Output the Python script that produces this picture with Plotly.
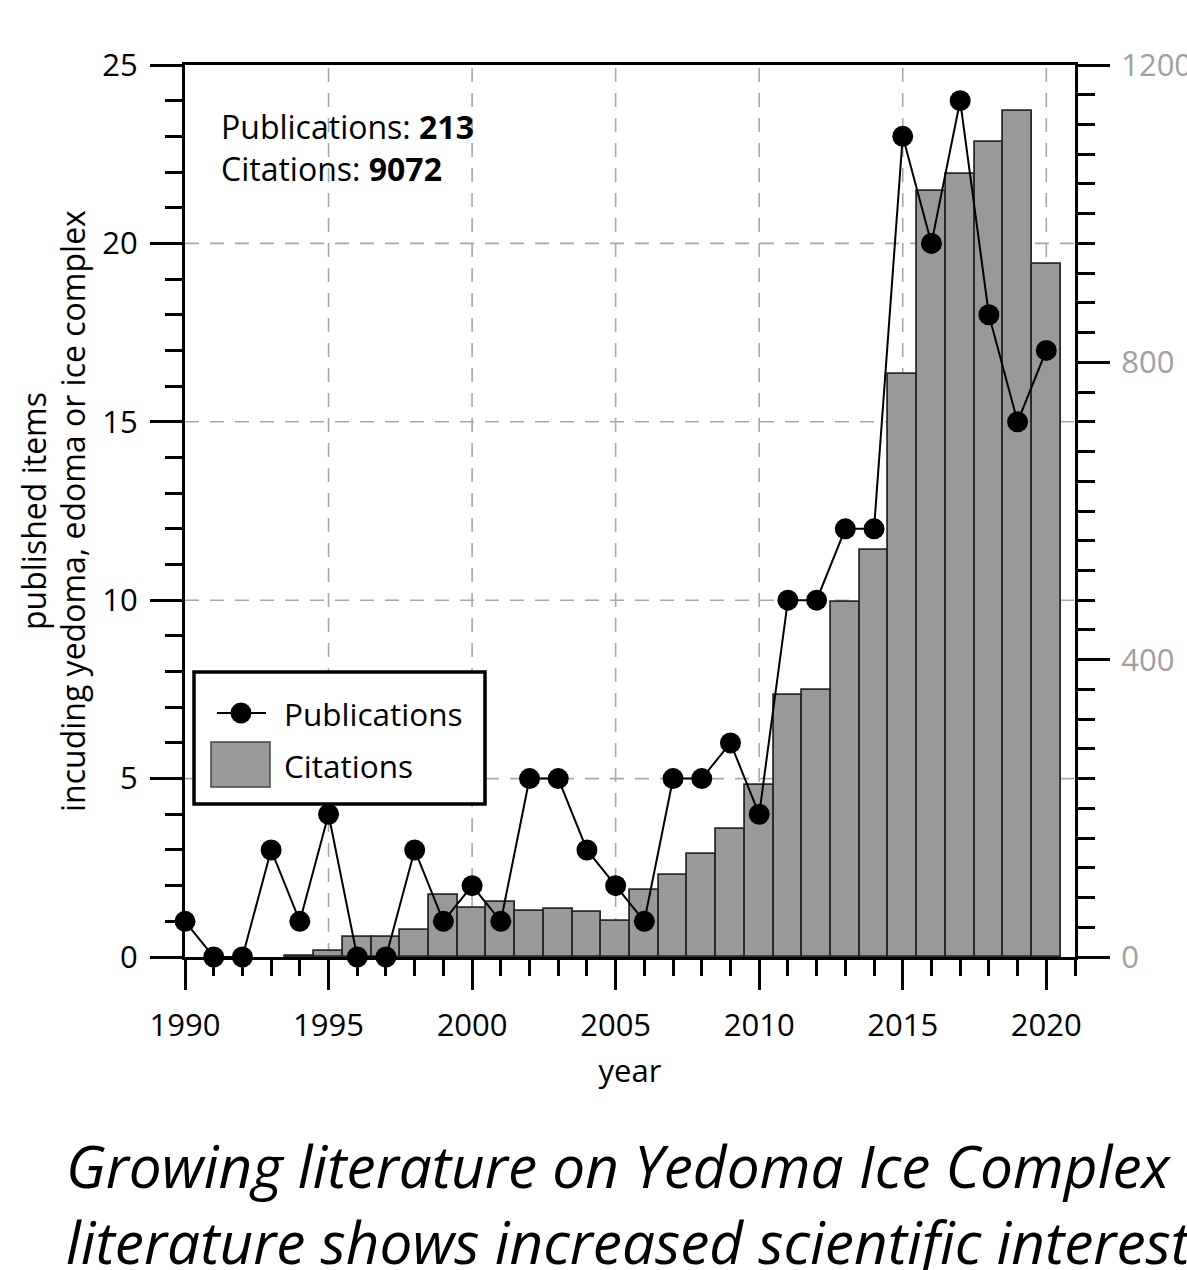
import plotly.graph_objects as go

# ---- data ----
years = list(range(1990, 2021))
publications = [1, 0, 0, 3, 1, 4, 0, 0, 3, 1, 2, 1, 5, 5, 3, 2, 1, 5, 5, 6, 4,
                10, 10, 12, 12, 23, 20, 24, 18, 15, 17]
cit_years = list(range(1994, 2021))
citations = [2, 8, 27, 27, 37, 84, 66, 74, 62, 65, 60, 49, 90, 110, 139, 172, 232,
             352, 359, 478, 548, 784, 1031, 1053, 1096, 1138, 932]
x_ticks = [1990, 1995, 2000, 2005, 2010, 2015, 2020]
left_ticks = [0, 5, 10, 15, 20, 25]
right_ticks = [0, 400, 800, 1200]
grid_x = [1995, 2000, 2005, 2010, 2015, 2020]
grid_y = [5, 10, 15, 20]
total_pub = 213
total_cit = 9072

X_RANGE = [1990, 2021]
Y_RANGE = [0, 25]
Y2_RANGE = [0, 1200]

FONT = "Open Sans"
GRID_COLOR = "#a8a8a8"
W, H = 1187, 1270
ML, MR, MT, MB = 185, 112, 65, 313
PW, PH = W - ML - MR, H - MT - MB

fig = go.Figure()

# grid lines (drawn above bars, below publication markers)
gx, gy = [], []
for v in grid_x:
    gx += [v, v, None]
    gy += [Y_RANGE[0], Y_RANGE[1], None]
for v in grid_y:
    gx += [X_RANGE[0], X_RANGE[1], None]
    gy += [v, v, None]
fig.add_trace(go.Scatter(x=gx, y=gy, mode="lines", yaxis="y",
                         line=dict(color=GRID_COLOR, width=1.6, dash="14px,11px"),
                         hoverinfo="skip", showlegend=False))

fig.add_trace(go.Bar(x=cit_years, y=citations, yaxis="y2", width=1.0,
                     marker=dict(color="#999999", line=dict(color="#2a2a2a", width=1.8)),
                     name="Citations", showlegend=False))

fig.add_trace(go.Scatter(x=years, y=publications, yaxis="y3", mode="lines+markers",
                         line=dict(color="black", width=2),
                         marker=dict(color="black", size=21),
                         cliponaxis=False, name="Publications", showlegend=False))

tickfont = dict(family=FONT, size=31, color="black")

fig.update_layout(
    width=W, height=H, autosize=False,
    margin=dict(l=ML, r=MR, t=MT, b=MB),
    paper_bgcolor="white", plot_bgcolor="white",
    font=dict(family=FONT, color="black"),
    bargap=0,
    xaxis=dict(range=X_RANGE, tickvals=x_ticks, showgrid=False, zeroline=False,
               automargin=False,
               showline=True, linecolor="black", linewidth=3, mirror=True,
               ticks="outside", ticklen=30, tickwidth=3, tickcolor="black",
               minor=dict(dtick=1, tick0=1990, ticks="outside", ticklen=16,
                          tickwidth=3, tickcolor="black", showgrid=False),
               tickfont=tickfont, ticklabelstandoff=9,
               title=dict(text="year", font=dict(family=FONT, size=31), standoff=17)),
    yaxis=dict(range=Y_RANGE, tickvals=left_ticks, showgrid=False, zeroline=False,
               automargin=False,
               showline=True, linecolor="black", linewidth=3,
               ticks="outside", ticklen=32, tickwidth=3, tickcolor="black",
               minor=dict(dtick=1, tick0=0, ticks="outside", ticklen=17,
                          tickwidth=3, tickcolor="black", showgrid=False),
               tickfont=tickfont, ticklabelstandoff=6),
    yaxis2=dict(range=Y2_RANGE, tickvals=right_ticks, overlaying="y", side="right",
                anchor="x", showgrid=False, zeroline=False, automargin=False,
                showline=True, linecolor="black", linewidth=3,
                ticks="outside", ticklen=32, tickwidth=3, tickcolor="black",
                minor=dict(dtick=40, tick0=0, ticks="outside", ticklen=17,
                           tickwidth=3, tickcolor="black", showgrid=False),
                tickfont=dict(family=FONT, size=31, color="#a0a0a0"),
                ticklabelstandoff=5),
    yaxis3=dict(range=Y_RANGE, overlaying="y", visible=False),
)


def px_x(p):
    return (p - ML) / PW


def px_y(p):
    return (H - MB - p) / PH


# y-axis title (two lines, rotated)
fig.add_annotation(text="published items", xref="paper", yref="paper",
                   x=px_x(33), y=0.5, xanchor="center", yanchor="middle",
                   textangle=-90, showarrow=False,
                   font=dict(family=FONT, size=32, color="black"))
fig.add_annotation(text="incuding yedoma, edoma or ice complex", xref="paper", yref="paper",
                   x=px_x(72), y=0.5, xanchor="center", yanchor="middle",
                   textangle=-90, showarrow=False,
                   font=dict(family=FONT, size=32, color="black"))

# totals annotation
fig.add_annotation(text=f"Publications: <b>{total_pub}</b><br>Citations: <b>{total_cit}</b>",
                   xref="paper", yref="paper", x=px_x(219), y=px_y(103),
                   xanchor="left", yanchor="top", align="left", showarrow=False,
                   font=dict(family=FONT, size=32, color="black"))

# manual legend
fig.add_shape(type="rect", xref="paper", yref="paper",
              x0=px_x(194), x1=px_x(485), y0=px_y(672), y1=px_y(804),
              line=dict(color="black", width=3.5), fillcolor="white", layer="above")
fig.add_shape(type="line", xref="paper", yref="paper",
              x0=px_x(217), x1=px_x(266), y0=px_y(713), y1=px_y(713),
              line=dict(color="black", width=2), layer="above")
fig.add_shape(type="circle", xref="paper", yref="paper",
              xsizemode="pixel", ysizemode="pixel",
              xanchor=px_x(241), yanchor=px_y(713), x0=-10.5, x1=10.5, y0=-10.5, y1=10.5,
              fillcolor="black", line=dict(color="black", width=0), layer="above")
fig.add_shape(type="rect", xref="paper", yref="paper",
              x0=px_x(211), x1=px_x(270), y0=px_y(742), y1=px_y(787),
              fillcolor="#999999", line=dict(color="#444444", width=1.5), layer="above")
fig.add_annotation(text="Publications", xref="paper", yref="paper",
                   x=px_x(282), y=px_y(713), xanchor="left", yanchor="middle",
                   showarrow=False, font=dict(family=FONT, size=31.5, color="black"))
fig.add_annotation(text="Citations", xref="paper", yref="paper",
                   x=px_x(282), y=px_y(765), xanchor="left", yanchor="middle",
                   showarrow=False, font=dict(family=FONT, size=31.5, color="black"))

# caption
fig.add_annotation(text="<i>Growing literature on Yedoma Ice Complex<br>"
                        "literature shows increased scientific interest</i>",
                   xref="paper", yref="paper", x=px_x(64), y=px_y(1203),
                   xanchor="left", yanchor="middle", align="left", showarrow=False,
                   font=dict(family=FONT, size=58.5, color="black"))

fig.write_html(
    "out.html",
    config={"displayModeBar": False},
    post_script=(
        "document.body.style.margin='0';"
        "document.body.style.overflow='hidden';"
        "var gd=document.getElementById('{plot_id}');"
        "Plotly.relayout(gd,{width:%d,height:%d});" % (W, H)
    ),
)
